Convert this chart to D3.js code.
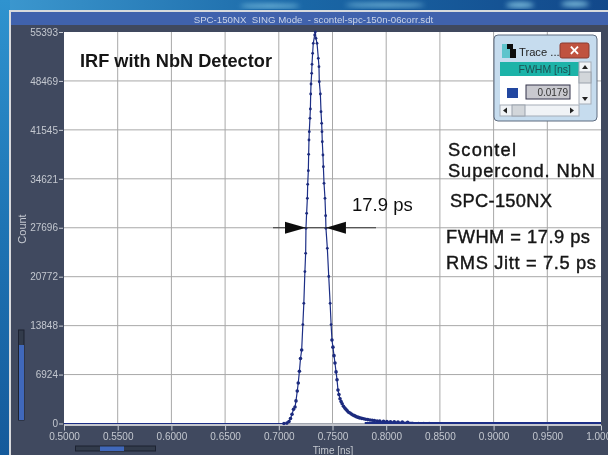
<!Doctype html>
<html>
<head>
<style>
html,body{margin:0;padding:0;background:#1b6aa5;overflow:hidden}
text{font-family:"Liberation Sans",Arial,sans-serif}
</style>
</head>
<body>
<div id="paper"></div>
<script src="https://cdn.jsdelivr.net/npm/d3@7"></script>
<script>
// values
const xTicks = [0.5,0.55,0.6,0.65,0.7,0.75,0.8,0.85,0.9,0.95,1.0];
const yTicks = [0,6924,13848,20772,27696,34621,41545,48469,55393];
const times = [
  0.5,0.6,0.68,0.7048,0.7076,0.7095,0.7109,0.7123,0.7137,0.7151,0.7160,0.7172,0.7181,0.7192,0.7202,0.7213,
  0.7224,0.7233,0.7243,0.7250,0.7253,0.7259,0.7266,0.7269,0.7275,0.7278,0.7281,0.7284,0.7290,0.7294,
  0.7297,0.7300,0.7306,0.7309,0.7315,0.7321,0.7334,0.7340,
  0.7346,0.7356,0.7368,0.7374,0.7377,0.7387,0.7393,0.7399,0.7402,0.7405,0.7411,0.7415,0.7421,0.7430,
  0.7436,0.7439,0.7452,0.7465,0.7478,0.7487,0.7495,0.7504,0.7514,0.7523,0.7533,0.7542,0.7551,0.7560,
  0.7570,0.7580,0.7590,0.7602,0.7614,0.7625,0.7637,0.7650,0.7663,0.7676,0.7690,0.7703,0.7716,0.7728,
  0.7741,0.7754,0.7772,0.7790,0.7808,0.7828,0.7849,0.7870,0.7890,0.7915,0.7940,0.7975,0.8007,0.8040,
  0.8075,0.8110,0.8150,0.8200,0.8250,0.8300,0.8350,0.8400,0.8450,0.8500,0.8550,0.8600,0.8650,0.8700,
  0.8750,0.8800,0.8850,0.8900,0.8950,0.9000,0.9050,0.9100,0.9150,0.9200,0.9250,0.9300,0.9350,0.9400,
  0.9450,0.9500,0.9550,0.9600,0.9650,0.9700,0.9750,0.9800,0.9850,0.9900,0.9950
];
const counts = [
  0,0,0,0,60,280,700,1300,2000,2335,3200,4600,5730,7400,9200,10400,
  14000,17000,21500,24076,27615,29737,31860,33841,35775,38086,40114,41294,43180,44500,
  46624,48039,49548,50822,52379,53794,54973,55393,
  54501,53794,51671,50492,48369,46624,44124,42473,41294,39878,37992,36340,33982,31860,
  29406,27615,24784,20800,17000,14000,11815,10800,9600,8560,7300,6200,4740,4100,
  3500,3100,2800,2450,2190,2000,1800,1600,1480,1330,1200,1110,1010,920,
  860,790,730,680,610,550,495,450,410,360,330,300,280,250,
  225,210,190,180,150,140,130,120,110,100,90,95,85,80,
  70,75,65,60,70,55,60,50,55,45,50,40,50,45,
  35,40,45,30,40,35,30,40,25,35,30
];
const fwhmT = [0.7253, 0.7439];
const noteText = ["Scontel","Supercond. NbN","SPC-150NX","FWHM = 17.9 ps","RMS Jitt = 7.5 ps"];
const data = times.map((t,i) => ({t, c: counts[i]}));

const W = 608, H = 455;
const x = d3.scaleLinear([0.5,1.0],[64,601]);
const y = d3.scaleLinear([0,55393],[423.5,32]);

const svg = d3.select("#paper").append("svg")
  .attr("width",W).attr("height",H).style("display","block");

const defs = svg.append("defs");
const bg = defs.append("linearGradient").attr("id","bg").attr("x1",0).attr("y1",0).attr("x2",1).attr("y2",0);
bg.append("stop").attr("offset",0).attr("stop-color","#3c98cf");
bg.append("stop").attr("offset",0.5).attr("stop-color","#1a67a6");
bg.append("stop").attr("offset",1).attr("stop-color","#12488a");
const side = defs.append("linearGradient").attr("id","side").attr("x1",0).attr("y1",0).attr("x2",0).attr("y2",1);
side.append("stop").attr("offset",0).attr("stop-color","#2f93cf");
side.append("stop").attr("offset",0.5).attr("stop-color","#1e74b4");
side.append("stop").attr("offset",1).attr("stop-color","#155a9b");
defs.append("filter").attr("id","soft").append("feGaussianBlur").attr("stdDeviation",2.5);
defs.append("filter").attr("id","tiny").append("feGaussianBlur").attr("stdDeviation",0.45);

// desktop behind the window
svg.append("rect").attr("width",W).attr("height",H).attr("fill","url(#bg)");
svg.append("rect").attr("width",10).attr("height",H).attr("fill","url(#side)");
const streaks = svg.append("g").attr("filter","url(#soft)").attr("fill","#8fd0ea").attr("opacity",0.8);
[[385,5,40,2],[520,5,14,3],[575,4,14,3],[270,6,30,2]].forEach(s => {
  streaks.append("ellipse").attr("cx",s[0]).attr("cy",s[1]).attr("rx",s[2]).attr("ry",s[3]);
});

const root = svg.append("g").attr("filter","url(#tiny)");

// window
root.append("rect").attr("x",9).attr("y",10).attr("width",W-9).attr("height",H-10).attr("fill","#d8dadd");
root.append("rect").attr("x",11).attr("y",12).attr("width",W-11).attr("height",H-12).attr("fill","#414a5e");
root.append("rect").attr("x",11).attr("y",12).attr("width",W-11).attr("height",13).attr("fill","#3f62ad");
root.append("text").attr("x",313.5).attr("y",22.5).attr("text-anchor","middle")
  .attr("font-size",9.7).attr("fill","#c9d3e8").attr("xml:space","preserve")
  .text("SPC-150NX  SING Mode  - scontel-spc-150n-06corr.sdt");

// plot area
root.append("rect").attr("x",x(0.5)).attr("y",y(55393)).attr("width",x(1)-x(0.5)).attr("height",y(0)-y(55393)).attr("fill","#fff");

const grid = root.append("g").attr("stroke","#a8a8a8").attr("stroke-width",1);
grid.selectAll("line.v").data(xTicks.slice(1,-1)).join("line").attr("class","v")
  .attr("x1",d => x(d)).attr("x2",d => x(d)).attr("y1",y(55393)).attr("y2",y(0));
grid.selectAll("line.h").data(yTicks.slice(1,-1)).join("line").attr("class","h")
  .attr("x1",x(0.5)).attr("x2",x(1)).attr("y1",d => y(d)).attr("y2",d => y(d));
root.append("line").attr("x1",x(0.5)).attr("x2",x(1)).attr("y1",y(0)+1.5).attr("y2",y(0)+1.5).attr("stroke","#c4c6cc").attr("stroke-width",2);

// axes
const xAxis = root.append("g").attr("transform",`translate(0,${y(0)+2})`)
  .call(d3.axisBottom(x).tickValues(xTicks).tickFormat(d3.format(".4f")).tickSize(5).tickPadding(2));
const yAxis = root.append("g").attr("transform",`translate(${x(0.5)-1},0)`)
  .call(d3.axisLeft(y).tickValues(yTicks).tickFormat(d => d).tickSize(4).tickPadding(1));
[xAxis,yAxis].forEach(a => {
  a.select(".domain").remove();
  a.selectAll("line").attr("stroke","#c8ccd4");
  a.selectAll("text").attr("fill","#c3c7d0").attr("font-size",10)
    .attr("font-family",'"Liberation Sans",Arial,sans-serif');
});

root.append("text").attr("x",333).attr("y",454).attr("text-anchor","middle")
  .attr("font-size",10).attr("fill","#c3c7d0").text("Time [ns]");
root.append("text").attr("transform","translate(26,229) rotate(-90)").attr("text-anchor","middle")
  .attr("font-size",11).attr("fill","#c3c7d0").text("Count");

// scroll bars
root.append("rect").attr("x",18.5).attr("y",330).attr("width",5.5).attr("height",90).attr("fill","#333a4c").attr("stroke","#1d2230");
root.append("rect").attr("x",19).attr("y",345).attr("width",5).attr("height",75).attr("fill","#3f68bb");
root.append("rect").attr("x",75.5).attr("y",446).attr("width",80).attr("height",5).attr("fill","#333a4c").attr("stroke","#1d2230");
root.append("rect").attr("x",100).attr("y",446.5).attr("width",24).attr("height",4.5).attr("fill","#3f68bb");

// trace
const line = d3.line().x(d => x(d.t)).y(d => y(d.c));
root.append("path").datum(data).attr("fill","none").attr("stroke","#1d2f86").attr("stroke-width",1.2).attr("d",line);
root.append("g").attr("fill","#1c2b7e").selectAll("circle").data(data.slice(3)).join("circle")
  .attr("cx",d => x(d.t)).attr("cy",d => y(d.c))
  .attr("r",d => d.t > 0.82 ? 0.8 : d.c < 12000 ? 1.8 : 1.4);
root.append("line").attr("x1",x(0.78)).attr("x2",x(1)).attr("y1",y(0)-0.5).attr("y2",y(0)-0.5).attr("stroke","#1d2f86").attr("stroke-width",2);

// FWHM marker
const fy = y(27696);
root.append("line").attr("x1",273).attr("x2",376).attr("y1",fy).attr("y2",fy).attr("stroke","#333").attr("stroke-width",1);
root.append("path").attr("fill","#111")
  .attr("d",`M${x(fwhmT[0])},${fy}L${x(fwhmT[0])-21},${fy-6}V${fy+6}Z`);
root.append("path").attr("fill","#111")
  .attr("d",`M${x(fwhmT[1])},${fy}L${x(fwhmT[1])+20},${fy-6}V${fy+6}Z`);
root.append("text").attr("x",352).attr("y",211).attr("font-size",18.5).attr("fill","#111").text("17.9 ps");

root.append("text").attr("x",80).attr("y",67).attr("font-size",18.2).attr("font-weight","bold").attr("fill","#141414").text("IRF with NbN Detector");

// right hand notes, left edge / baseline / width measured in the picture
const notePos = [[448,156,68],[448,177,147],[450,207,102],[446,243,144],[446,269,150]];
root.append("g").selectAll("text").data(noteText).join("text")
  .attr("x",(d,i) => notePos[i][0]).attr("y",(d,i) => notePos[i][1])
  .attr("textLength",(d,i) => notePos[i][2]).attr("lengthAdjust","spacing")
  .attr("font-size",18.3).attr("fill","#141414").attr("stroke","#141414").attr("stroke-width",0.4)
  .text(d => d);

// floating Trace panel
const p = root.append("g");
p.append("rect").attr("x",494).attr("y",35).attr("width",103).attr("height",86).attr("rx",4).attr("fill","#c6dcee").attr("stroke","#5f6c80");
p.append("rect").attr("x",502).attr("y",44).attr("width",10).attr("height",14).attr("fill","#5fc4cc");
p.append("rect").attr("x",507).attr("y",44).attr("width",6).attr("height",5).attr("fill","#111");
p.append("rect").attr("x",510).attr("y",49).attr("width",6).attr("height",9).attr("fill","#111");
p.append("text").attr("x",519).attr("y",56).attr("font-size",11.2).attr("fill","#222").text("Trace ...");
p.append("rect").attr("x",560).attr("y",43).attr("width",29).attr("height",15).attr("rx",2).attr("fill","#c0523f").attr("stroke","#8a3a30");
p.append("text").attr("x",574.5).attr("y",55).attr("text-anchor","middle").attr("font-size",13).attr("font-weight","bold").attr("fill","#fff").text("✕");
p.append("rect").attr("x",500).attr("y",62).attr("width",79).attr("height",14).attr("fill","#1fb3a8");
p.append("text").attr("x",571).attr("y",73).attr("text-anchor","end").attr("font-size",10.5).attr("fill","#1f4f52").text("FWHM  [ns]");
p.append("rect").attr("x",500).attr("y",76).attr("width",79).attr("height",29).attr("fill","#fff");
p.append("rect").attr("x",507).attr("y",88).attr("width",11).attr("height",10).attr("fill","#2346a0");
p.append("rect").attr("x",526).attr("y",85).attr("width",44).attr("height",14).attr("fill","#c9c9cf").attr("stroke","#33334a");
p.append("text").attr("x",568).attr("y",95.5).attr("text-anchor","end").attr("font-size",10).attr("fill","#333").text("0.0179");
p.append("rect").attr("x",579).attr("y",62).attr("width",12).attr("height",42).attr("fill","#f0f3f6").attr("stroke","#a5adb8");
p.append("rect").attr("x",579).attr("y",72).attr("width",12).attr("height",11).attr("fill","#d2d6da").attr("stroke","#9aa2ac");
p.append("rect").attr("x",500).attr("y",105).attr("width",79).attr("height",11).attr("fill","#f0f3f6").attr("stroke","#a5adb8");
p.append("rect").attr("x",512).attr("y",105).attr("width",13).attr("height",11).attr("fill","#d2d6da").attr("stroke","#9aa2ac");
p.append("path").attr("fill","#222").attr("d","M585,65l3,4h-6ZM585,101l3,-4h-6ZM503,110.5l4,-3v6ZM574,110.5l-4,-3v6Z");
</script>
</body>
</html>
